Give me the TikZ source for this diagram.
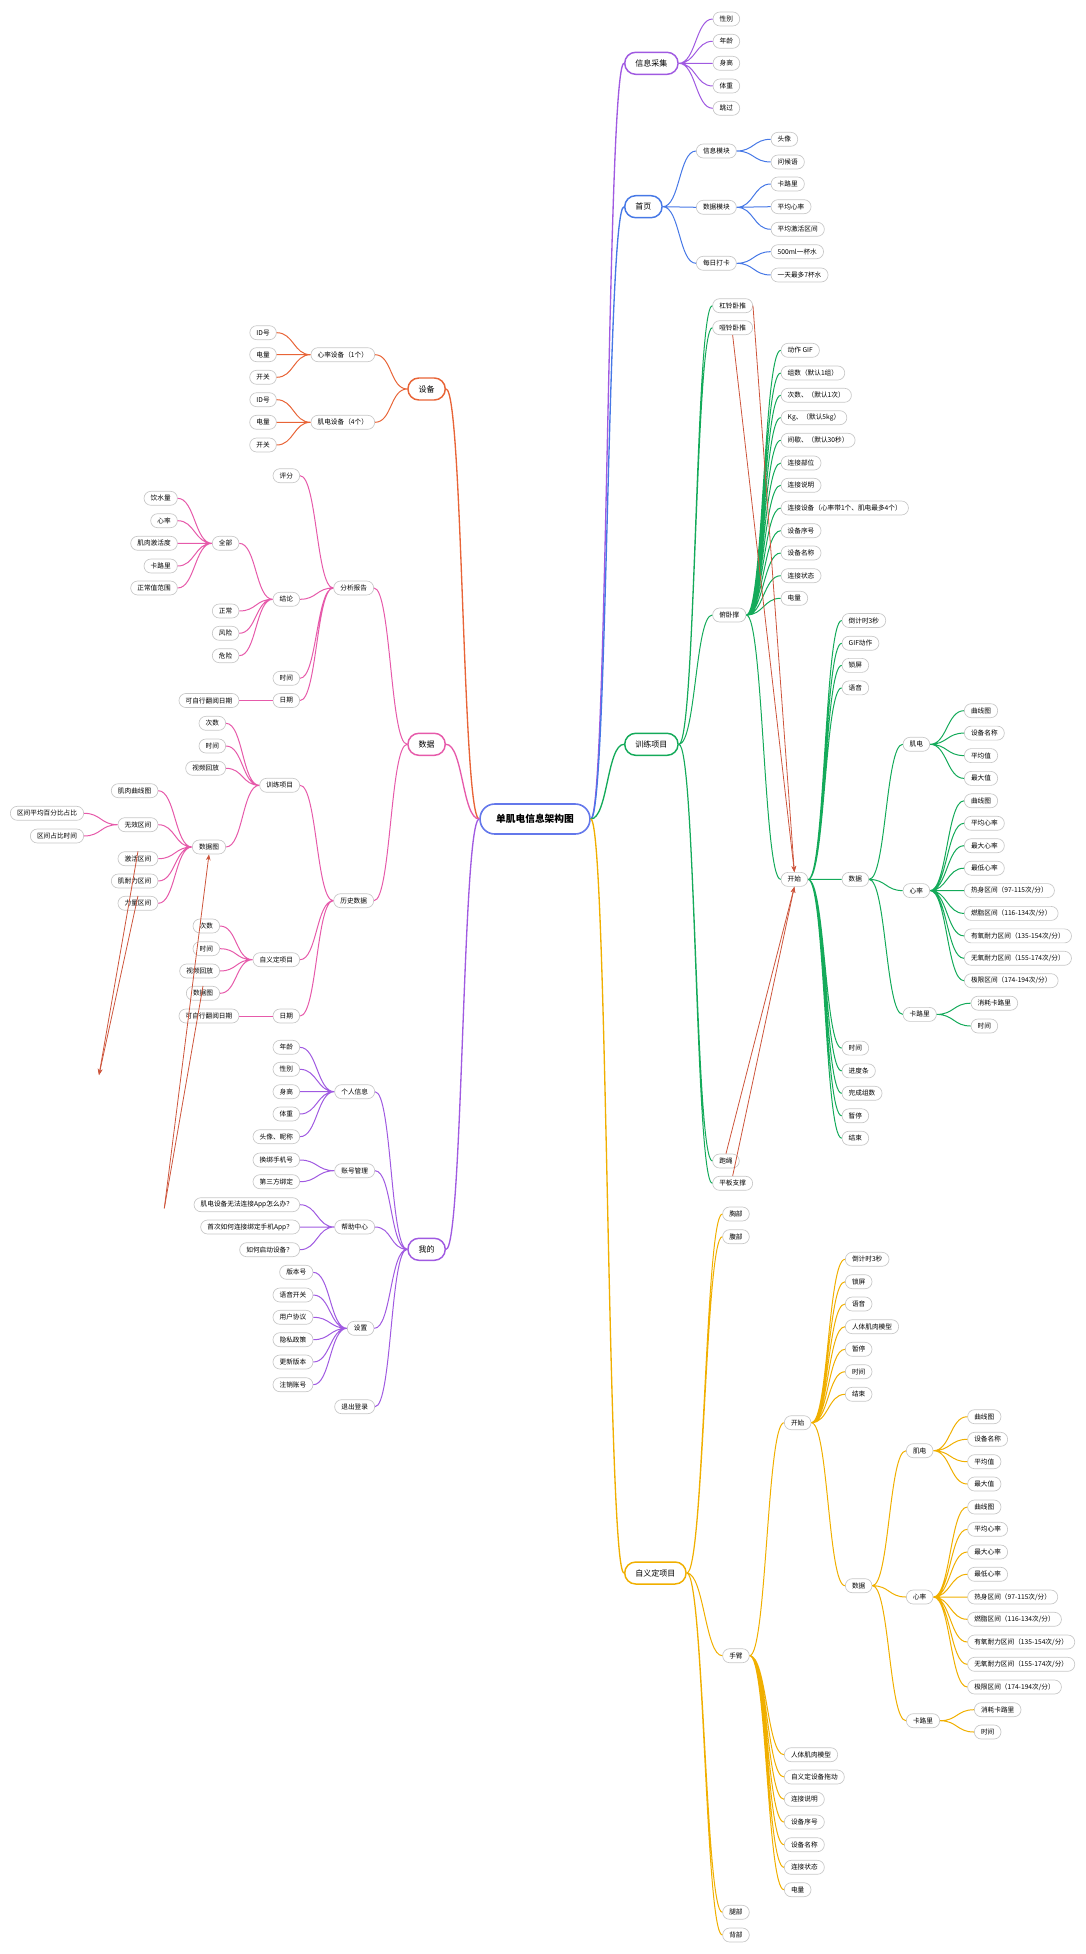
\documentclass[tikz,border=0pt]{standalone}
\usepackage{fontspec}
\setmainfont{Noto Sans CJK SC}
\usetikzlibrary{arrows.meta}

\definecolor{cPurple}{RGB}{160,90,225}
\definecolor{cBlue}{RGB}{70,120,230}
\definecolor{cGreen}{RGB}{20,170,90}
\definecolor{cYellow}{RGB}{240,175,0}
\definecolor{cOrange}{RGB}{232,100,55}
\definecolor{cPink}{RGB}{230,90,170}
\definecolor{cRoot}{RGB}{100,120,235}
\definecolor{cLeaf}{RGB}{200,200,200}
\definecolor{cRel}{RGB}{205,85,60}

\tikzset{every picture/.style={line width=0.75pt}}
\tikzset{
  leaf/.style={draw=cLeaf, fill=white, line width=0.5pt, rounded corners=5.2pt, minimum height=10.5pt, inner xsep=5pt, inner ysep=0pt, font=\fontsize{5}{6}\selectfont},
  topic/.style={draw=#1, fill=white, line width=1.1pt, rounded corners=8.2pt, minimum height=16.5pt, inner xsep=8pt, inner ysep=0pt, font=\fontsize{6}{7}\selectfont},
  root/.style={draw=cRoot, fill=white, line width=1.2pt, rounded corners=11pt, minimum height=22.5pt, inner xsep=12pt, inner ysep=0pt, font=\bfseries\fontsize{7.3}{9}\selectfont},
  rcurve/.style={to path={.. controls +(17,0) and +(-17,0) .. (\tikztotarget)}},
  lcurve/.style={to path={.. controls +(-17,0) and +(17,0) .. (\tikztotarget)}},
  rel/.style={draw=cRel, line width=0.6pt},
  relarrow/.style={rel, -{Stealth[length=4.5pt,width=3.5pt]}}
}

\begin{document}
\begin{tikzpicture}[x=0.75pt,y=0.75pt,yscale=-1,xscale=1]
\useasboundingbox (0,0) rectangle (1085,1954);

% Root
\node[root] (root) at (535,819) {单肌电信息架构图};

% Main topics
\node[topic=cPurple, anchor=west] (info) at (624,63.3) {信息采集};
\node[topic=cBlue, anchor=west] (home) at (624,206.7) {首页};
\node[topic=cGreen, anchor=west] (train) at (624,744.3) {训练项目};
\node[topic=cYellow, anchor=west] (cust) at (624,1573) {自义定项目};
\node[topic=cOrange, anchor=east] (dev) at (446,389) {设备};
\node[topic=cPink, anchor=east] (data) at (446,744.3) {数据};
\node[topic=cPurple, anchor=east] (mine) at (446,1249.3) {我的};

% Text Node: info
\node[leaf, anchor=west] (iSex) at (712.7,19) {性别};
\node[leaf, anchor=west] (iAge) at (712.7,41.3) {年龄};
\node[leaf, anchor=west] (iHgt) at (712.7,63.3) {身高};
\node[leaf, anchor=west] (iWgt) at (712.7,86) {体重};
\node[leaf, anchor=west] (iSkip) at (712.7,108.3) {跳过};

% Text Node: home
\node[leaf, anchor=west] (hInfo) at (696,151) {信息模块};
\node[leaf, anchor=west] (hData) at (696,207.3) {数据模块};
\node[leaf, anchor=west] (hDay) at (696,263.3) {每日打卡};
\node[leaf, anchor=west] (hAvatar) at (770.7,139.3) {头像};
\node[leaf, anchor=west] (hHello) at (770.7,162) {问候语};
\node[leaf, anchor=west] (hCal) at (770.7,184) {卡路里};
\node[leaf, anchor=west] (hHR) at (770.7,206.7) {平均心率};
\node[leaf, anchor=west] (hAct) at (770.7,229.3) {平均激活区间};
\node[leaf, anchor=west] (hCup) at (770.7,251.7) {500ml一杯水};
\node[leaf, anchor=west] (hMax) at (770.7,275) {一天最多7杯水};

% Text Node: train
\node[leaf, anchor=west] (tBar) at (712.3,305.7) {杠铃卧推};
\node[leaf, anchor=west] (tDumb) at (712.3,327.7) {哑铃卧推};
\node[leaf, anchor=west] (tPush) at (712.3,615) {俯卧撑};
\node[leaf, anchor=west] (tRope) at (712.3,1161) {跑绳};
\node[leaf, anchor=west] (tPlank) at (712.3,1183.3) {平板支撑};

\node[leaf, anchor=west] (pGif) at (780.7,350.3) {动作 GIF};
\node[leaf, anchor=west] (pSet) at (780.7,373) {组数（默认1组）};
\node[leaf, anchor=west] (pRep) at (780.7,395.3) {次数、（默认1次）};
\node[leaf, anchor=west] (pKg) at (780.7,417.7) {Kg、（默认5kg）};
\node[leaf, anchor=west] (pRest) at (780.7,440.3) {间歇、（默认30秒）};
\node[leaf, anchor=west] (pPart) at (780.7,463) {连接部位};
\node[leaf, anchor=west] (pGuide) at (780.7,485.3) {连接说明};
\node[leaf, anchor=west] (pDev) at (780.7,508) {连接设备（心率带1个、肌电最多4个）};
\node[leaf, anchor=west] (pNo) at (780.7,530.7) {设备序号};
\node[leaf, anchor=west] (pName) at (780.7,553) {设备名称};
\node[leaf, anchor=west] (pState) at (780.7,575.7) {连接状态};
\node[leaf, anchor=west] (pBat) at (780.7,598.3) {电量};
\node[leaf, anchor=west] (pStart) at (780.7,879.4) {开始};

\node[leaf, anchor=west] (sCnt) at (841.7,620.5) {倒计时3秒};
\node[leaf, anchor=west] (sGif) at (841.7,643.3) {GIF动作};
\node[leaf, anchor=west] (sLock) at (841.7,665.4) {锁屏};
\node[leaf, anchor=west] (sVoice) at (841.7,687.9) {语音};
\node[leaf, anchor=west] (sData) at (841.7,879.4) {数据};
\node[leaf, anchor=west] (sTime) at (841.7,1048.1) {时间};
\node[leaf, anchor=west] (sProg) at (841.7,1070.9) {进度条};
\node[leaf, anchor=west] (sDone) at (841.7,1093.3) {完成组数};
\node[leaf, anchor=west] (sPause) at (841.7,1115.8) {暂停};
\node[leaf, anchor=west] (sEnd) at (841.7,1138.2) {结束};

\node[leaf, anchor=west] (dEmg) at (902.7,744.3) {肌电};
\node[leaf, anchor=west] (dHR) at (902.7,890.6) {心率};
\node[leaf, anchor=west] (dCal) at (902.7,1014.4) {卡路里};

\node[leaf, anchor=west] (e1) at (964,710.7) {曲线图};
\node[leaf, anchor=west] (e2) at (964,733.1) {设备名称};
\node[leaf, anchor=west] (e3) at (964,755.6) {平均值};
\node[leaf, anchor=west] (e4) at (964,778.4) {最大值};

\node[leaf, anchor=west] (r1) at (964,800.8) {曲线图};
\node[leaf, anchor=west] (r2) at (964,823.3) {平均心率};
\node[leaf, anchor=west] (r3) at (964,845.7) {最大心率};
\node[leaf, anchor=west] (r4) at (964,868.2) {最低心率};
\node[leaf, anchor=west] (r5) at (964,890.6) {热身区间（97-115次/分）};
\node[leaf, anchor=west] (r6) at (964,913.4) {燃脂区间（116-134次/分）};
\node[leaf, anchor=west] (r7) at (964,935.9) {有氧耐力区间（135-154次/分）};
\node[leaf, anchor=west] (r8) at (964,958.3) {无氧耐力区间（155-174次/分）};
\node[leaf, anchor=west] (r9) at (964,980.7) {极限区间（174-194次/分）};

\node[leaf, anchor=west] (c1) at (970.7,1003.2) {消耗卡路里};
\node[leaf, anchor=west] (c2) at (970.7,1026) {时间};

% Text Node: custom
\node[leaf, anchor=west] (uChest) at (722.3,1214) {胸部};
\node[leaf, anchor=west] (uAbs) at (722.3,1236.7) {腹部};
\node[leaf, anchor=west] (uArm) at (722.3,1655.7) {手臂};
\node[leaf, anchor=west] (uLeg) at (722.3,1912.3) {腿部};
\node[leaf, anchor=west] (uBack) at (722.3,1935) {背部};

\node[leaf, anchor=west] (aStart) at (784,1422.7) {开始};
\node[leaf, anchor=west] (aModel) at (784,1754.7) {人体肌肉模型};
\node[leaf, anchor=west] (aDrag) at (784,1777) {自义定设备拖动};
\node[leaf, anchor=west] (aGuide) at (784,1799.3) {连接说明};
\node[leaf, anchor=west] (aNo) at (784,1822) {设备序号};
\node[leaf, anchor=west] (aName) at (784,1844.7) {设备名称};
\node[leaf, anchor=west] (aState) at (784,1867.3) {连接状态};
\node[leaf, anchor=west] (aBat) at (784,1889.7) {电量};

\node[leaf, anchor=west] (bCnt) at (845,1259.3) {倒计时3秒};
\node[leaf, anchor=west] (bLock) at (845,1281.7) {锁屏};
\node[leaf, anchor=west] (bVoice) at (845,1304) {语音};
\node[leaf, anchor=west] (bModel) at (845,1326.7) {人体肌肉模型};
\node[leaf, anchor=west] (bPause) at (845,1349.3) {暂停};
\node[leaf, anchor=west] (bTime) at (845,1371.7) {时间};
\node[leaf, anchor=west] (bEnd) at (845,1394.3) {结束};
\node[leaf, anchor=west] (bData) at (845,1585.7) {数据};

\node[leaf, anchor=west] (bEmg) at (906,1450.7) {肌电};
\node[leaf, anchor=west] (bHR) at (906,1597) {心率};
\node[leaf, anchor=west] (bCal) at (906,1720.7) {卡路里};

\node[leaf, anchor=west] (f1) at (967.3,1416.7) {曲线图};
\node[leaf, anchor=west] (f2) at (967.3,1439.3) {设备名称};
\node[leaf, anchor=west] (f3) at (967.3,1461.7) {平均值};
\node[leaf, anchor=west] (f4) at (967.3,1484) {最大值};

\node[leaf, anchor=west] (g1) at (967.3,1507) {曲线图};
\node[leaf, anchor=west] (g2) at (967.3,1529.3) {平均心率};
\node[leaf, anchor=west] (g3) at (967.3,1552) {最大心率};
\node[leaf, anchor=west] (g4) at (967.3,1574.3) {最低心率};
\node[leaf, anchor=west] (g5) at (967.3,1597) {热身区间（97-115次/分）};
\node[leaf, anchor=west] (g6) at (967.3,1619.3) {燃脂区间（116-134次/分）};
\node[leaf, anchor=west] (g7) at (967.3,1642) {有氧耐力区间（135-154次/分）};
\node[leaf, anchor=west] (g8) at (967.3,1664.3) {无氧耐力区间（155-174次/分）};
\node[leaf, anchor=west] (g9) at (967.3,1687) {极限区间（174-194次/分）};

\node[leaf, anchor=west] (k1) at (974,1709.7) {消耗卡路里};
\node[leaf, anchor=west] (k2) at (974,1732) {时间};

% Text Node: device
\node[leaf, anchor=east] (vHR) at (375,354.7) {心率设备（1个）};
\node[leaf, anchor=east] (vEmg) at (375,422.3) {肌电设备（4个）};
\node[leaf, anchor=east] (vh1) at (276.7,332.7) {ID号};
\node[leaf, anchor=east] (vh2) at (276.7,354.7) {电量};
\node[leaf, anchor=east] (vh3) at (276.7,377.3) {开关};
\node[leaf, anchor=east] (ve1) at (276.7,399.7) {ID号};
\node[leaf, anchor=east] (ve2) at (276.7,422.3) {电量};
\node[leaf, anchor=east] (ve3) at (276.7,445) {开关};

% Text Node: data
\node[leaf, anchor=east] (aRep) at (374,588) {分析报告};
\node[leaf, anchor=east] (aHist) at (374,900.7) {历史数据};

\node[leaf, anchor=east] (rScore) at (300,475.7) {评分};
\node[leaf, anchor=east] (rCon) at (300,599.3) {结论};
\node[leaf, anchor=east] (rTime) at (300,678.3) {时间};
\node[leaf, anchor=east] (rDate) at (300,700.5) {日期};
\node[leaf, anchor=east] (rFlip) at (239.3,700.5) {可自行翻阅日期};

\node[leaf, anchor=east] (cAll) at (239.3,543.3) {全部};
\node[leaf, anchor=east] (cOk) at (239.3,611) {正常};
\node[leaf, anchor=east] (cRisk) at (239.3,633.3) {风险};
\node[leaf, anchor=east] (cDang) at (239.3,655.7) {危险};

\node[leaf, anchor=east] (l1) at (177.7,498.3) {饮水量};
\node[leaf, anchor=east] (l2) at (177.7,520.7) {心率};
\node[leaf, anchor=east] (l3) at (177.7,543.3) {肌肉激活度};
\node[leaf, anchor=east] (l4) at (177.7,566) {卡路里};
\node[leaf, anchor=east] (l5) at (177.7,588) {正常值范围};

\node[leaf, anchor=east] (yTrain) at (300,785.3) {训练项目};
\node[leaf, anchor=east] (yCust) at (300,959.7) {自义定项目};
\node[leaf, anchor=east] (yDate) at (300,1016) {日期};
\node[leaf, anchor=east] (yFlip) at (239.3,1016) {可自行翻阅日期};

\node[leaf, anchor=east] (yt1) at (226,723.3) {次数};
\node[leaf, anchor=east] (yt2) at (226,746) {时间};
\node[leaf, anchor=east] (yt3) at (226,768.3) {视频回放};
\node[leaf, anchor=east] (ytChart) at (226,847) {数据图};

\node[leaf, anchor=east] (q1) at (158.3,790.7) {肌肉曲线图};
\node[leaf, anchor=east] (qBad) at (158.3,824.7) {无效区间};
\node[leaf, anchor=east] (q3) at (158.3,858.7) {激活区间};
\node[leaf, anchor=east] (q4) at (158.3,881) {肌耐力区间};
\node[leaf, anchor=east] (q5) at (158.3,903.3) {力量区间};
\node[leaf, anchor=east] (n1) at (84,813.3) {区间平均百分比占比};
\node[leaf, anchor=east] (n2) at (84,836) {区间占比时间};

\node[leaf, anchor=east] (yc1) at (220,926) {次数};
\node[leaf, anchor=east] (yc2) at (220,948.7) {时间};
\node[leaf, anchor=east] (yc3) at (220,971) {视频回放};
\node[leaf, anchor=east] (ycChart) at (220,993.3) {数据图};

% Text Node: mine
\node[leaf, anchor=east] (mInfo) at (375,1091.7) {个人信息};
\node[leaf, anchor=east] (mAcc) at (375,1170.7) {账号管理};
\node[leaf, anchor=east] (mHelp) at (375,1227) {帮助中心};
\node[leaf, anchor=east] (mSet) at (374.3,1328.3) {设置};
\node[leaf, anchor=east] (mOut) at (375,1406.7) {退出登录};

\node[leaf, anchor=east] (pi1) at (300,1047.3) {年龄};
\node[leaf, anchor=east] (pi2) at (300,1069.3) {性别};
\node[leaf, anchor=east] (pi3) at (300,1091.7) {身高};
\node[leaf, anchor=east] (pi4) at (300,1114) {体重};
\node[leaf, anchor=east] (pi5) at (300,1136.7) {头像、昵称};
\node[leaf, anchor=east] (ac1) at (300,1160) {换绑手机号};
\node[leaf, anchor=east] (ac2) at (300,1181.7) {第三方绑定};
\node[leaf, anchor=east] (hp1) at (300,1204.7) {肌电设备无法连接App怎么办？};
\node[leaf, anchor=east] (hp2) at (300,1227) {首次如何连接绑定手机App？};
\node[leaf, anchor=east] (hp3) at (300,1249.7) {如何启动设备？};
\node[leaf, anchor=east] (st1) at (313.3,1272.3) {版本号};
\node[leaf, anchor=east] (st2) at (313.3,1295) {语音开关};
\node[leaf, anchor=east] (st3) at (313.3,1317.3) {用户协议};
\node[leaf, anchor=east] (st4) at (313.3,1339.7) {隐私政策};
\node[leaf, anchor=east] (st5) at (313.3,1362) {更新版本};
\node[leaf, anchor=east] (st6) at (313.3,1384.7) {注销账号};

%Curve Lines: root to main topics
\draw[cPurple, line width=1pt] (root.east) to[rcurve] (info.west);
\draw[cBlue, line width=1pt] (root.east) to[rcurve] (home.west);
\draw[cGreen, line width=1pt] (root.east) to[rcurve] (train.west);
\draw[cYellow, line width=1pt] (root.east) to[rcurve] (cust.west);
\draw[cOrange, line width=1pt] (root.west) to[lcurve] (dev.east);
\draw[cPink, line width=1pt] (root.west) to[lcurve] (data.east);
\draw[cPurple, line width=1pt] (root.west) to[lcurve] (mine.east);

%Curve Lines: info
\draw[cPurple] (info.east) to[rcurve] (iSex.west) (info.east) to[rcurve] (iAge.west) (info.east) to[rcurve] (iHgt.west) (info.east) to[rcurve] (iWgt.west) (info.east) to[rcurve] (iSkip.west);

%Curve Lines: home
\draw[cBlue] (home.east) to[rcurve] (hInfo.west) (home.east) to[rcurve] (hData.west) (home.east) to[rcurve] (hDay.west);
\draw[cBlue] (hInfo.east) to[rcurve] (hAvatar.west) (hInfo.east) to[rcurve] (hHello.west);
\draw[cBlue] (hData.east) to[rcurve] (hCal.west) (hData.east) to[rcurve] (hHR.west) (hData.east) to[rcurve] (hAct.west);
\draw[cBlue] (hDay.east) to[rcurve] (hCup.west) (hDay.east) to[rcurve] (hMax.west);

%Curve Lines: train
\draw[cGreen] (train.east) to[rcurve] (tBar.west) (train.east) to[rcurve] (tDumb.west) (train.east) to[rcurve] (tPush.west) (train.east) to[rcurve] (tRope.west) (train.east) to[rcurve] (tPlank.west);
\draw[cGreen] (tPush.east) to[rcurve] (pGif.west) (tPush.east) to[rcurve] (pSet.west) (tPush.east) to[rcurve] (pRep.west) (tPush.east) to[rcurve] (pKg.west) (tPush.east) to[rcurve] (pRest.west) (tPush.east) to[rcurve] (pPart.west) (tPush.east) to[rcurve] (pGuide.west) (tPush.east) to[rcurve] (pDev.west) (tPush.east) to[rcurve] (pNo.west) (tPush.east) to[rcurve] (pName.west) (tPush.east) to[rcurve] (pState.west) (tPush.east) to[rcurve] (pBat.west) (tPush.east) to[rcurve] (pStart.west);
\draw[cGreen] (pStart.east) to[rcurve] (sCnt.west) (pStart.east) to[rcurve] (sGif.west) (pStart.east) to[rcurve] (sLock.west) (pStart.east) to[rcurve] (sVoice.west) (pStart.east) to[rcurve] (sData.west) (pStart.east) to[rcurve] (sTime.west) (pStart.east) to[rcurve] (sProg.west) (pStart.east) to[rcurve] (sDone.west) (pStart.east) to[rcurve] (sPause.west) (pStart.east) to[rcurve] (sEnd.west);
\draw[cGreen] (sData.east) to[rcurve] (dEmg.west) (sData.east) to[rcurve] (dHR.west) (sData.east) to[rcurve] (dCal.west);
\draw[cGreen] (dEmg.east) to[rcurve] (e1.west) (dEmg.east) to[rcurve] (e2.west) (dEmg.east) to[rcurve] (e3.west) (dEmg.east) to[rcurve] (e4.west);
\draw[cGreen] (dHR.east) to[rcurve] (r1.west) (dHR.east) to[rcurve] (r2.west) (dHR.east) to[rcurve] (r3.west) (dHR.east) to[rcurve] (r4.west) (dHR.east) to[rcurve] (r5.west) (dHR.east) to[rcurve] (r6.west) (dHR.east) to[rcurve] (r7.west) (dHR.east) to[rcurve] (r8.west) (dHR.east) to[rcurve] (r9.west);
\draw[cGreen] (dCal.east) to[rcurve] (c1.west) (dCal.east) to[rcurve] (c2.west);

%Curve Lines: custom
\draw[cYellow] (cust.east) to[rcurve] (uChest.west) (cust.east) to[rcurve] (uAbs.west) (cust.east) to[rcurve] (uArm.west) (cust.east) to[rcurve] (uLeg.west) (cust.east) to[rcurve] (uBack.west);
\draw[cYellow] (uArm.east) to[rcurve] (aStart.west) (uArm.east) to[rcurve] (aModel.west) (uArm.east) to[rcurve] (aDrag.west) (uArm.east) to[rcurve] (aGuide.west) (uArm.east) to[rcurve] (aNo.west) (uArm.east) to[rcurve] (aName.west) (uArm.east) to[rcurve] (aState.west) (uArm.east) to[rcurve] (aBat.west);
\draw[cYellow] (aStart.east) to[rcurve] (bCnt.west) (aStart.east) to[rcurve] (bLock.west) (aStart.east) to[rcurve] (bVoice.west) (aStart.east) to[rcurve] (bModel.west) (aStart.east) to[rcurve] (bPause.west) (aStart.east) to[rcurve] (bTime.west) (aStart.east) to[rcurve] (bEnd.west) (aStart.east) to[rcurve] (bData.west);
\draw[cYellow] (bData.east) to[rcurve] (bEmg.west) (bData.east) to[rcurve] (bHR.west) (bData.east) to[rcurve] (bCal.west);
\draw[cYellow] (bEmg.east) to[rcurve] (f1.west) (bEmg.east) to[rcurve] (f2.west) (bEmg.east) to[rcurve] (f3.west) (bEmg.east) to[rcurve] (f4.west);
\draw[cYellow] (bHR.east) to[rcurve] (g1.west) (bHR.east) to[rcurve] (g2.west) (bHR.east) to[rcurve] (g3.west) (bHR.east) to[rcurve] (g4.west) (bHR.east) to[rcurve] (g5.west) (bHR.east) to[rcurve] (g6.west) (bHR.east) to[rcurve] (g7.west) (bHR.east) to[rcurve] (g8.west) (bHR.east) to[rcurve] (g9.west);
\draw[cYellow] (bCal.east) to[rcurve] (k1.west) (bCal.east) to[rcurve] (k2.west);

%Curve Lines: device
\draw[cOrange] (dev.west) to[lcurve] (vHR.east) (dev.west) to[lcurve] (vEmg.east);
\draw[cOrange] (vHR.west) to[lcurve] (vh1.east) (vHR.west) to[lcurve] (vh2.east) (vHR.west) to[lcurve] (vh3.east);
\draw[cOrange] (vEmg.west) to[lcurve] (ve1.east) (vEmg.west) to[lcurve] (ve2.east) (vEmg.west) to[lcurve] (ve3.east);

%Curve Lines: data
\draw[cPink] (data.west) to[lcurve] (aRep.east) (data.west) to[lcurve] (aHist.east);
\draw[cPink] (aRep.west) to[lcurve] (rScore.east) (aRep.west) to[lcurve] (rCon.east) (aRep.west) to[lcurve] (rTime.east) (aRep.west) to[lcurve] (rDate.east);
\draw[cPink] (rCon.west) to[lcurve] (cAll.east) (rCon.west) to[lcurve] (cOk.east) (rCon.west) to[lcurve] (cRisk.east) (rCon.west) to[lcurve] (cDang.east);
\draw[cPink] (cAll.west) to[lcurve] (l1.east) (cAll.west) to[lcurve] (l2.east) (cAll.west) to[lcurve] (l3.east) (cAll.west) to[lcurve] (l4.east) (cAll.west) to[lcurve] (l5.east);
\draw[cPink] (rDate.west) -- (rFlip.east);
\draw[cPink] (aHist.west) to[lcurve] (yTrain.east) (aHist.west) to[lcurve] (yCust.east) (aHist.west) to[lcurve] (yDate.east);
\draw[cPink] (yTrain.west) to[lcurve] (yt1.east) (yTrain.west) to[lcurve] (yt2.east) (yTrain.west) to[lcurve] (yt3.east) (yTrain.west) to[lcurve] (ytChart.east);
\draw[cPink] (ytChart.west) to[lcurve] (q1.east) (ytChart.west) to[lcurve] (qBad.east) (ytChart.west) to[lcurve] (q3.east) (ytChart.west) to[lcurve] (q4.east) (ytChart.west) to[lcurve] (q5.east);
\draw[cPink] (qBad.west) to[lcurve] (n1.east) (qBad.west) to[lcurve] (n2.east);
\draw[cPink] (yCust.west) to[lcurve] (yc1.east) (yCust.west) to[lcurve] (yc2.east) (yCust.west) to[lcurve] (yc3.east) (yCust.west) to[lcurve] (ycChart.east);
\draw[cPink] (yDate.west) -- (yFlip.east);

%Curve Lines: mine
\draw[cPurple] (mine.west) to[lcurve] (mInfo.east) (mine.west) to[lcurve] (mAcc.east) (mine.west) to[lcurve] (mHelp.east) (mine.west) to[lcurve] (mSet.east) (mine.west) to[lcurve] (mOut.east);
\draw[cPurple] (mInfo.west) to[lcurve] (pi1.east) (mInfo.west) to[lcurve] (pi2.east) (mInfo.west) to[lcurve] (pi3.east) (mInfo.west) to[lcurve] (pi4.east) (mInfo.west) to[lcurve] (pi5.east);
\draw[cPurple] (mAcc.west) to[lcurve] (ac1.east) (mAcc.west) to[lcurve] (ac2.east);
\draw[cPurple] (mHelp.west) to[lcurve] (hp1.east) (mHelp.west) to[lcurve] (hp2.east) (mHelp.west) to[lcurve] (hp3.east);
\draw[cPurple] (mSet.west) to[lcurve] (st1.east) (mSet.west) to[lcurve] (st2.east) (mSet.west) to[lcurve] (st3.east) (mSet.west) to[lcurve] (st4.east) (mSet.west) to[lcurve] (st5.east) (mSet.west) to[lcurve] (st6.east);

%Straight Lines: relations
\coordinate (relA) at (99,1075);
\coordinate (relB) at (164.3,1208.3);
\draw[relarrow] (tBar.east) -- (pStart.north);
\draw[relarrow] (tDumb.south) -- (pStart.north);
\draw[relarrow] (tRope.north) -- (pStart.south);
\draw[relarrow] (tPlank.north) -- (pStart.south);
\draw[relarrow] (q3.north) -- (relA);
\draw[relarrow] (q5.north) -- (relA);
\draw[relarrow] (relB) -- (ytChart.south);
\draw[rel] (ycChart.north) -- (relB);

\end{tikzpicture}
\end{document}
